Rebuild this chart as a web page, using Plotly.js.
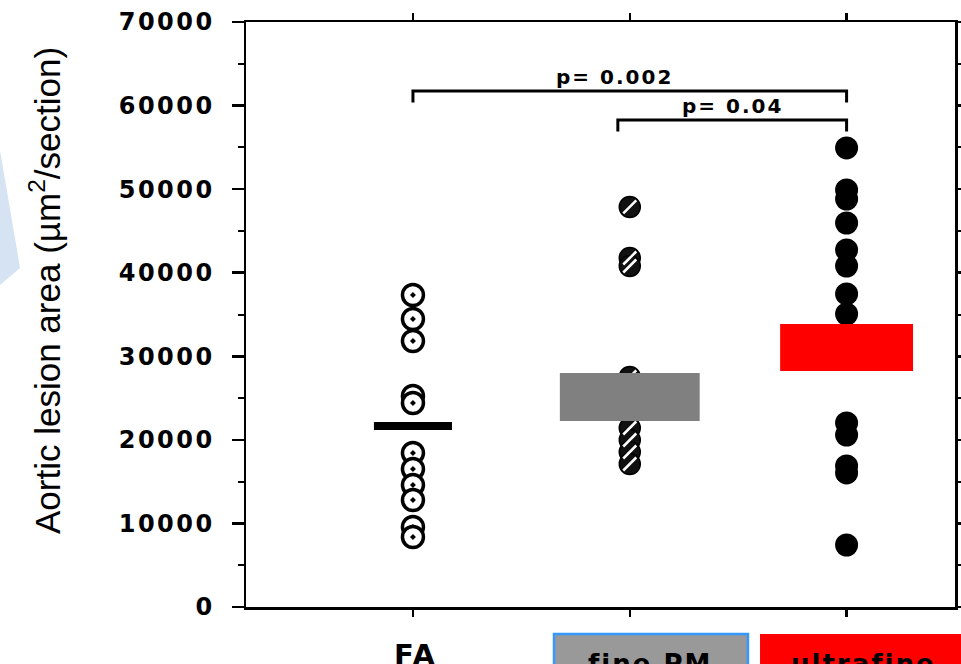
<!DOCTYPE html>
<html>
<head>
<meta charset="utf-8">
<script src="https://cdn.plot.ly/plotly-3.0.1.min.js"></script>
<style>
  html, body { margin: 0; padding: 0; background: #ffffff; }
  #chart { width: 961px; height: 664px; }
</style>
</head>
<body>
<div id="chart"></div>
<script>
// ---------------- data ----------------
const categories = ['FA', 'fine PM', 'ultrafine'];
const faValues = [37333, 34462, 31829, 25248, 24410, 18427, 16513, 14598, 12803, 9573, 8376];
const finePMValues = [47864, 41761, 40804, 27522, 25800, 21419, 19983, 18547, 17111];
const ultrafineValues = [54924, 49898, 48821, 45949, 42719, 40804, 37454, 35060, 31500, 22017, 20581, 16872, 16035, 7419];
// mean band (low/high) per group
const bandLow = [21180, 22257, 28240];
const bandHigh = [22137, 28000, 33864];
// y axis ticks
const yTickVals = [0, 10000, 20000, 30000, 40000, 50000, 60000, 70000];
const yTickLabels = ['0', '10000', '20000', '30000', '40000', '50000', '60000', '70000'];
// significance brackets
const pLabels = ['p= 0.002', 'p= 0.04'];
const bracketLevels = [61745, 58275];
const yTitle = 'Aortic lesion area (µm<sup>2</sup>/section)';

// ---------------- styling constants ----------------
const bandWidths = [0.36, 0.645, 0.613];
const bandColors = ['#000000', '#808080', '#ff0000'];
const bracketStarts = [0, 0.945];
const bracketEnd = 2;
const legDrop = 1380;
const boldFont = 'DejaVu Sans, Liberation Sans, Arial, sans-serif';

function xs(arr, i) { return arr.map(() => i); }
function spaced(t, ls) { return '<span style="letter-spacing:' + ls + 'px">' + t + '</span>'; }

const traces = [
  {
    type: 'scatter', mode: 'markers', x: xs(faValues, 0), y: faValues, name: categories[0],
    marker: { symbol: 'circle-dot', size: 21, color: '#ffffff', line: { color: '#000000', width: 3.5 } },
    hoverinfo: 'y'
  },
  {
    type: 'scatter', mode: 'markers', x: xs(finePMValues, 1), y: finePMValues, name: categories[1],
    marker: { symbol: 'circle', size: 21, color: '#111111', line: { color: '#000000', width: 1.5 } },
    hoverinfo: 'y'
  },
  {
    type: 'scatter', mode: 'markers', x: xs(finePMValues, 1), y: finePMValues, name: categories[1] + ' hatch',
    marker: { symbol: 'line-ne', size: 13, color: '#ffffff', line: { color: '#ffffff', width: 2.5 } },
    hoverinfo: 'skip'
  },
  {
    type: 'scatter', mode: 'markers', x: xs(ultrafineValues, 2), y: ultrafineValues, name: categories[2],
    marker: { symbol: 'circle', size: 23, color: '#000000', line: { color: '#000000', width: 0 } },
    hoverinfo: 'y'
  }
];

const shapes = [];
// mean bands (drawn above the points)
categories.forEach((c, i) => {
  shapes.push({
    type: 'rect', xref: 'x', yref: 'y', layer: 'above',
    x0: i - bandWidths[i] / 2, x1: i + bandWidths[i] / 2,
    y0: bandLow[i], y1: bandHigh[i],
    fillcolor: bandColors[i], line: { width: 0 }
  });
});
// brackets
bracketLevels.forEach((lv, k) => {
  const a = bracketStarts[k], b = bracketEnd;
  shapes.push({
    type: 'path', xref: 'x', yref: 'y', layer: 'above',
    path: 'M ' + a + ',' + (lv - legDrop) + ' L ' + a + ',' + lv + ' L ' + b + ',' + lv + ' L ' + b + ',' + (lv - legDrop),
    line: { color: '#000000', width: 3 }
  });
});
// decorative light-blue wedge at left edge
shapes.push({
  type: 'path', xref: 'paper', yref: 'paper', layer: 'below',
  path: 'M -0.347,0.781 L -0.3187,0.5795 L -0.347,0.5504 Z',
  fillcolor: '#d5e3f3', line: { width: 0 }
});
// label boxes under the axis
shapes.push({
  type: 'rect', xref: 'paper', yref: 'paper', layer: 'above',
  x0: 0.4344, x1: 0.708, y0: -0.0462, y1: -0.12,
  fillcolor: '#999999', line: { color: '#3399ff', width: 2.5 }
});
shapes.push({
  type: 'rect', xref: 'paper', yref: 'paper', layer: 'above',
  x0: 0.725, x1: 1.02, y0: -0.0462, y1: -0.12,
  fillcolor: '#ff0000', line: { width: 0 }
});

const annotations = [
  {
    xref: 'x', yref: 'y', x: 0.93, y: bracketLevels[0], xanchor: 'center', yanchor: 'bottom',
    text: spaced(pLabels[0], 2), showarrow: false,
    font: { family: boldFont, size: 20, color: '#000000', weight: 'bold' }
  },
  {
    xref: 'x', yref: 'y', x: (bracketStarts[1] + bracketEnd) / 2, y: bracketLevels[1], xanchor: 'center', yanchor: 'bottom',
    text: spaced(pLabels[1], 2), showarrow: false,
    font: { family: boldFont, size: 20, color: '#000000', weight: 'bold' }
  },
  {
    xref: 'paper', yref: 'paper', x: -0.2835, y: 0.5419, xanchor: 'center', yanchor: 'middle',
    text: yTitle, textangle: -90, showarrow: false,
    font: { family: 'Liberation Sans Narrow, Arial Narrow, Liberation Sans, sans-serif', size: 35, color: '#000000' }
  },
  {
    xref: 'x', yref: 'paper', x: 0.01, y: -0.05, xanchor: 'center', yanchor: 'top',
    text: spaced(categories[0], 2), showarrow: false,
    font: { family: boldFont, size: 29, color: '#000000', weight: 'bold' }
  },
  {
    xref: 'paper', yref: 'paper', x: 0.5698, y: -0.068, xanchor: 'center', yanchor: 'top',
    text: spaced(categories[1], 2), showarrow: false,
    font: { family: boldFont, size: 26, color: '#000000', weight: 'bold' }
  },
  {
    xref: 'paper', yref: 'paper', x: 0.871, y: -0.068, xanchor: 'center', yanchor: 'top',
    text: spaced(categories[2], 2), showarrow: false,
    font: { family: boldFont, size: 26, color: '#000000', weight: 'bold' }
  }
];

const layout = {
  width: 961, height: 664,
  margin: { l: 246, r: 6, t: 22, b: 57, pad: 0 },
  paper_bgcolor: '#ffffff', plot_bgcolor: '#ffffff',
  showlegend: false,
  xaxis: {
    range: [-0.77, 2.5], tickvals: [0, 1, 2], showticklabels: false,
    ticks: 'outside', ticklen: 7, tickwidth: 2.5, tickcolor: '#000000',
    showline: true, linecolor: '#000000', linewidth: 2.5, mirror: 'ticks',
    showgrid: false, zeroline: false, fixedrange: true
  },
  yaxis: {
    range: [0, 70000], tickvals: yTickVals,
    ticktext: yTickLabels.map(t => spaced(t, 2.5)),
    ticks: 'outside', ticklen: 12, tickwidth: 2.5, tickcolor: '#000000',
    ticklabelstandoff: 12,
    minor: { dtick: 5000, ticks: 'outside', ticklen: 6, tickwidth: 2, tickcolor: '#000000', showgrid: false },
    tickfont: { family: boldFont, size: 24, color: '#000000', weight: 'bold' },
    showline: true, linecolor: '#000000', linewidth: 2.5, mirror: 'ticks',
    showgrid: false, zeroline: false, fixedrange: true
  },
  shapes: shapes,
  annotations: annotations
};

Plotly.newPlot('chart', traces, layout, { displayModeBar: false, staticPlot: true });
</script>
</body>
</html>
